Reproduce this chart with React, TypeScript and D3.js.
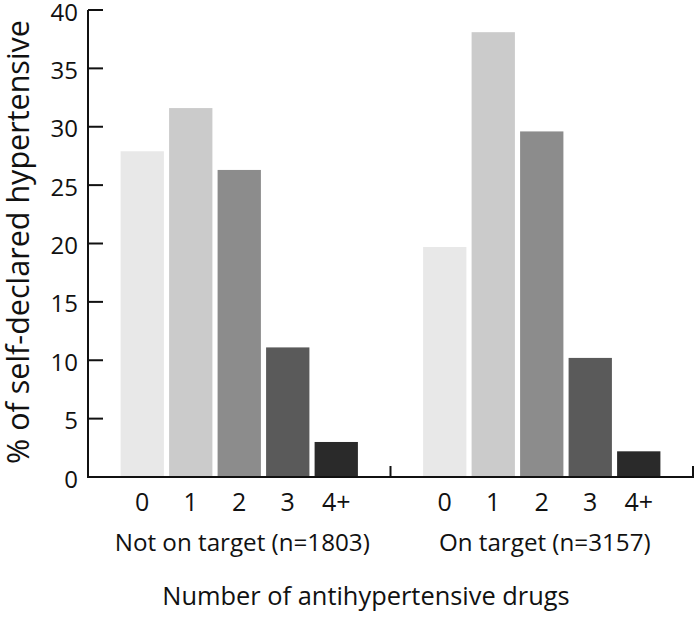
import React from "react";
import * as d3 from "d3";

const groups = ["Not on target (n=1803)", "On target (n=3157)"];
const categories = ["0", "1", "2", "3", "4+"];
const notOnTarget = [27.9, 31.6, 26.3, 11.1, 3.0];
const onTarget = [19.7, 38.1, 29.6, 10.2, 2.2];
const yTicks = [0, 5, 10, 15, 20, 25, 30, 35, 40];
const colors = ["#e8e8e8", "#cbcbcb", "#8c8c8c", "#5a5a5a", "#2a2a2a"];

const W = 697;
const H = 617;
const FONT = "'Open Sans', 'DejaVu Sans', sans-serif";

export default function App() {
  const left = 88;
  const right = 693;
  const y = d3.scaleLinear().domain([0, 40]).range([477, 10]);
  const xg = d3.scaleBand().domain(groups).range([left, right]).padding(0);
  const xi = d3
    .scaleBand()
    .domain(categories)
    .range([0, xg.bandwidth()])
    .paddingInner(0.107)
    .paddingOuter(0.672);
  const series = [notOnTarget, onTarget];

  return (
    <svg
      width={W}
      height={H}
      style={{ position: "absolute", left: 0, top: 0, background: "#fff" }}
      fontFamily={FONT}
    >
      {groups.map((g, gi) => (
        <g key={g} transform={`translate(${xg(g)},0)`}>
          {categories.map((c, ci) => (
            <rect
              key={c}
              x={xi(c)}
              y={y(series[gi][ci])}
              width={xi.bandwidth()}
              height={y(0) - y(series[gi][ci])}
              fill={colors[ci]}
            />
          ))}
          {categories.map((c) => (
            <text
              key={c}
              x={(xi(c) as number) + xi.bandwidth() / 2}
              y={511}
              textAnchor="middle"
              fontSize={25}
              fill="#111"
            >
              {c}
            </text>
          ))}
          <text
            x={xg.bandwidth() / 2 + 3}
            y={551}
            textAnchor="middle"
            fontSize={24.2}
            fill="#111"
          >
            {g}
          </text>
        </g>
      ))}
      {/* y axis */}
      <line x1={left} x2={left} y1={y(40)} y2={y(0) + 1} stroke="#111" strokeWidth={2} />
      {yTicks.map((t) => (
        <g key={t}>
          <line x1={left} x2={left + 15} y1={y(t)} y2={y(t)} stroke="#111" strokeWidth={2} />
          <text x={78} y={y(t) + 10.5} textAnchor="end" fontSize={24} fill="#111">
            {t}
          </text>
        </g>
      ))}
      {/* baseline */}
      <line x1={left} x2={right + 1} y1={y(0)} y2={y(0)} stroke="#111" strokeWidth={2} />
      {groups.map((g) => (
        <line
          key={g}
          x1={(xg(g) as number) + xg.bandwidth()}
          x2={(xg(g) as number) + xg.bandwidth()}
          y1={y(0)}
          y2={y(0) - 11}
          stroke="#111"
          strokeWidth={2}
        />
      ))}
      <text
        transform={`translate(29,242) rotate(-90)`}
        textAnchor="middle"
        fontSize={30.5}
        fill="#111"
      >
        % of self-declared hypertensive
      </text>
      <text x={366} y={605} textAnchor="middle" fontSize={25.4} fill="#111">
        Number of antihypertensive drugs
      </text>
    </svg>
  );
}
